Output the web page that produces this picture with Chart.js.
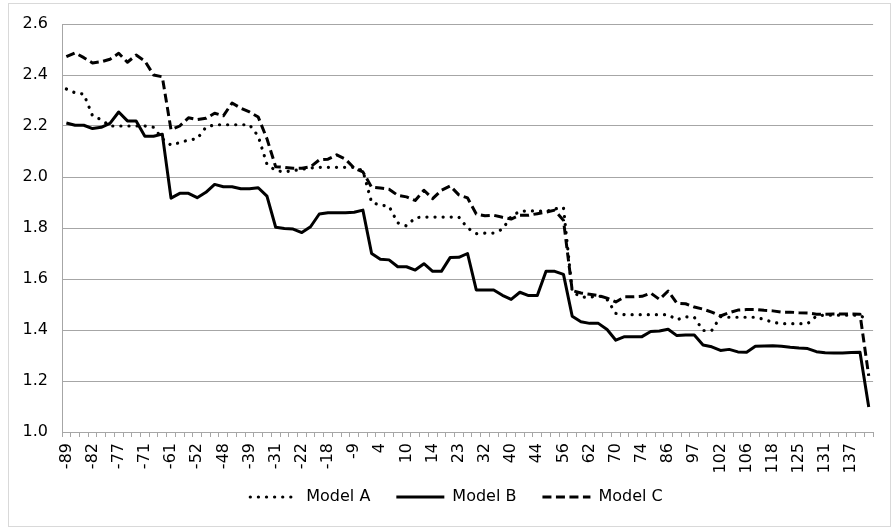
<!DOCTYPE html>
<html><head><meta charset="utf-8">
<script src="https://cdn.jsdelivr.net/npm/chart.js@4.4.1/dist/chart.umd.min.js"></script>
<style>html,body{margin:0;padding:0;background:#fff;}#wrap{width:894px;height:529px;}</style>
</head><body><div id="wrap"><canvas id="c" width="894" height="529"></canvas></div>
<script>
const categories = [-89,-87,-84,-82,-80,-79,-77,-75,-73,-71,-67,-64,-61,-58,-55,-52,-51,-49,-48,-45,-42,-39,-36,-34,-31,-28,-25,-22,-20,-19,-18,-14,-12,-9,-4,1,4,6,8,10,11,13,14,17,20,23,26,29,32,35,38,40,41,43,44,49,53,56,58,60,62,65,68,70,71,73,74,78,82,86,90,94,97,99,101,102,103,105,106,110,114,118,120,123,125,127,129,131,133,135,137,139,141];

const modelA = [2.345,2.33,2.325,2.24,2.225,2.20,2.20,2.20,2.20,2.20,2.195,2.15,2.125,2.135,2.145,2.15,2.195,2.205,2.205,2.205,2.205,2.205,2.16,2.05,2.025,2.02,2.025,2.03,2.035,2.038,2.038,2.038,2.038,2.038,2.025,1.90,1.89,1.885,1.82,1.808,1.84,1.843,1.843,1.843,1.843,1.843,1.80,1.778,1.78,1.78,1.795,1.845,1.866,1.867,1.867,1.865,1.875,1.88,1.55,1.53,1.528,1.535,1.52,1.465,1.46,1.46,1.46,1.46,1.46,1.46,1.44,1.452,1.45,1.398,1.398,1.452,1.45,1.45,1.45,1.45,1.442,1.43,1.425,1.425,1.425,1.425,1.455,1.458,1.458,1.458,1.458,1.458,1.435];

const modelB = [2.212,2.203,2.203,2.19,2.195,2.21,2.255,2.22,2.22,2.16,2.16,2.168,1.917,1.936,1.936,1.919,1.94,1.971,1.962,1.962,1.954,1.954,1.958,1.925,1.803,1.798,1.796,1.782,1.805,1.855,1.86,1.86,1.86,1.862,1.87,1.70,1.677,1.675,1.648,1.648,1.635,1.66,1.63,1.63,1.684,1.685,1.70,1.557,1.557,1.557,1.536,1.52,1.548,1.535,1.535,1.63,1.63,1.618,1.454,1.432,1.426,1.426,1.402,1.36,1.374,1.374,1.374,1.394,1.396,1.403,1.378,1.38,1.38,1.341,1.334,1.32,1.324,1.314,1.313,1.336,1.337,1.338,1.336,1.332,1.329,1.327,1.315,1.311,1.31,1.31,1.312,1.313,1.098];

const modelC = [2.472,2.487,2.468,2.447,2.452,2.462,2.485,2.45,2.478,2.455,2.40,2.393,2.185,2.20,2.232,2.225,2.23,2.25,2.24,2.29,2.27,2.255,2.235,2.15,2.04,2.038,2.034,2.034,2.04,2.067,2.07,2.087,2.07,2.035,2.02,1.96,1.957,1.952,1.928,1.922,1.908,1.948,1.915,1.948,1.965,1.93,1.918,1.855,1.848,1.85,1.842,1.835,1.85,1.85,1.856,1.862,1.87,1.83,1.555,1.545,1.54,1.535,1.525,1.51,1.53,1.53,1.532,1.545,1.52,1.553,1.505,1.503,1.49,1.482,1.47,1.455,1.468,1.478,1.48,1.48,1.477,1.475,1.47,1.47,1.468,1.467,1.462,1.462,1.463,1.463,1.463,1.462,1.22];

const seriesNames = ['Model A','Model B','Model C'];
const yTicks = [1.0,1.2,1.4,1.6,1.8,2.0,2.2,2.4,2.6];

const FONT = {family:'"DejaVu Sans", sans-serif', size:16};
const GRID = '#a6a6a6';

const frame = {
  id:'frame',
  afterLayout(chart){
    const lg = chart.legend;
    if (lg) { lg.left += 12; lg.right += 12; lg.top -= 13; lg.bottom -= 13; }
  },
  beforeDraw(chart){
    const c = chart.ctx;
    c.save();
    c.fillStyle = '#fff';
    c.fillRect(0,0,chart.width,chart.height);
    c.strokeStyle = '#d9d9d9';
    c.lineWidth = 1;
    c.strokeRect(8.5,3.5,882,523);
    c.restore();
  }
};

new Chart(document.getElementById('c'), {
  type:'line',
  data:{
    labels: categories.map(String),
    datasets:[
      {label:seriesNames[0], data:modelA, borderColor:'#000', backgroundColor:'#000', borderWidth:3.2,
       borderDash:[0.1,8], borderCapStyle:'round', borderJoinStyle:'round', pointRadius:0, pointStyle:'line', tension:0},
      {label:seriesNames[1], data:modelB, borderColor:'#000', backgroundColor:'#000', borderWidth:3,
       borderCapStyle:'butt', borderJoinStyle:'round', pointRadius:0, pointStyle:'line', tension:0},
      {label:seriesNames[2], data:modelC, borderColor:'#000', backgroundColor:'#000', borderWidth:3,
       borderDash:[9,4.5], borderCapStyle:'butt', borderJoinStyle:'round', pointRadius:0, pointStyle:'line', tension:0}
    ]
  },
  options:{
    responsive:false,
    animation:false,
    devicePixelRatio:1,
    layout:{padding:{left:8,right:13,top:24,bottom:1}},
    plugins:{
      legend:{
        position:'bottom',
        labels:{usePointStyle:true, pointStyleWidth:48, padding:26, color:'#000', font:FONT,
          generateLabels(chart){
            const items = Chart.defaults.plugins.legend.labels.generateLabels(chart);
            items.forEach((it,i)=>{
              const ds = chart.data.datasets[i];
              it.lineDash = ds.borderDash || [];
              it.lineCap = ds.borderCapStyle;
              it.lineWidth = ds.borderWidth;
              it.strokeStyle = '#000';
              it.pointStyle = 'line';
            });
            return items;
          }}
      },
      tooltip:{enabled:false}
    },
    scales:{
      x:{
        type:'category',
        offset:true,
        afterFit(s){ s.height = 44; },
        grid:{offset:true, drawOnChartArea:false, drawTicks:true, tickLength:5, color:GRID},
        border:{color:GRID, width:1},
        ticks:{autoSkip:false, minRotation:90, maxRotation:90, padding:6, color:'#000', font:FONT,
          callback(v,i){ return i % 3 === 0 ? this.getLabelForValue(v) : ''; }}
      },
      y:{
        min:yTicks[0], max:yTicks[yTicks.length-1],
        afterFit(s){ s.width = 54; },
        afterBuildTicks(s){ s.ticks = yTicks.map(v=>({value:v})); },
        grid:{color:GRID, drawTicks:false, lineWidth:1},
        border:{color:GRID, width:1},
        ticks:{padding:14, color:'#000', font:FONT, callback(v){ return Number(v).toFixed(1); }}
      }
    }
  },
  plugins:[frame]
});
</script>
</body></html>
